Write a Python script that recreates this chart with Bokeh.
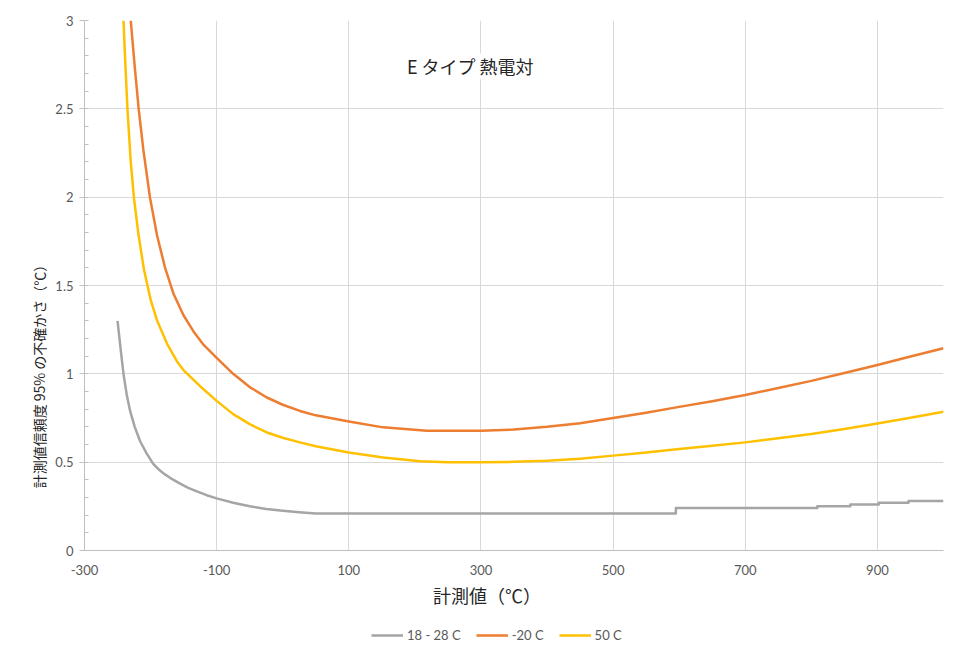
import math
from bokeh.plotting import figure
from bokeh.layouts import column
from bokeh.models import FixedTicker, NumeralTickFormatter, Label, Legend, LegendItem
from bokeh.embed import file_html
from bokeh.resources import INLINE

# ---- data ----
gray_x = [-250, -245, -241, -236, -231, -224, -216, -206, -196, -188, -180, -170, -156, -143, -130, -115, -100, -75, -50, -25, 0, 25, 50,
          595, 595, 809, 809, 859, 859, 902, 902, 947, 947, 1000]
gray_y = [1.30, 1.13, 1.00, 0.88, 0.79, 0.70, 0.62, 0.55, 0.49, 0.46, 0.435, 0.41, 0.38, 0.355, 0.335, 0.313, 0.295, 0.27, 0.25, 0.235, 0.225, 0.217, 0.21,
          0.21, 0.24, 0.24, 0.25, 0.25, 0.26, 0.26, 0.27, 0.27, 0.28, 0.28]

orange_x = [-230, -224, -218, -211, -201, -190, -178, -165, -150, -135, -120, -100, -75, -50, -24, 0, 26, 50, 100, 152, 218, 250,
            300, 350, 400, 450, 500, 550, 600, 650, 700, 750, 800, 850, 900, 950, 1000]
orange_y = [3.0, 2.74, 2.50, 2.27, 2.0, 1.78, 1.60, 1.45, 1.33, 1.24, 1.165, 1.09, 1.00, 0.925, 0.866, 0.825, 0.79, 0.765, 0.73, 0.697, 0.678, 0.678,
            0.678, 0.685, 0.70, 0.72, 0.75, 0.78, 0.813, 0.845, 0.88, 0.92, 0.96, 1.005, 1.05, 1.098, 1.145]

yellow_x = [-241, -238, -235, -230, -225, -218, -210, -200, -190, -175, -160, -150, -125, -100, -75, -50, -24, 0, 26, 50, 100, 152, 208, 250,
            300, 350, 400, 450, 500, 550, 600, 650, 700, 750, 800, 850, 900, 950, 1000]
yellow_y = [3.0, 2.74, 2.50, 2.20, 1.99, 1.78, 1.59, 1.42, 1.30, 1.17, 1.07, 1.02, 0.93, 0.847, 0.772, 0.715, 0.668, 0.638, 0.612, 0.59, 0.555, 0.527, 0.505, 0.50,
            0.499, 0.502, 0.508, 0.52, 0.537, 0.555, 0.575, 0.593, 0.612, 0.635, 0.659, 0.688, 0.719, 0.752, 0.785]

series_names = ["18 - 28 C", "-20 C", "50 C"]
series_colors = ["#A5A5A5", "#ED7D31", "#FFC000"]
series_x = [gray_x, orange_x, yellow_x]
series_y = [gray_y, orange_y, yellow_y]

x_ticks = [-300, -100, 100, 300, 500, 700, 900]
y_ticks = [0, 0.5, 1, 1.5, 2, 2.5, 3]
y_minor = [round(i * 0.1, 1) for i in range(31)]

title_text = "E タイプ  熱電対"
x_label = "計測値（℃）"
y_label = "計測値信頼度 95% の不確かさ（℃）"

tick_font = "Lato"
tick_color = "#595959"
cjk_font = "Noto Sans CJK JP"

# ---- main figure ----
p = figure(width=959, height=615, x_range=(-300, 1000), y_range=(0, 3),
           output_backend="svg", toolbar_location=None,
           min_border_left=84, min_border_right=16, min_border_top=20, min_border_bottom=65)
p.outline_line_color = None
p.background_fill_color = "white"
p.border_fill_color = "white"

p.xaxis.ticker = FixedTicker(ticks=x_ticks)
p.xaxis.formatter = NumeralTickFormatter(format="0")
p.yaxis.ticker = FixedTicker(ticks=y_ticks, minor_ticks=y_minor)
p.yaxis.formatter = NumeralTickFormatter(format="0.[0]")

for ax in (p.xaxis, p.yaxis):
    ax.axis_line_color = "#bfbfbf"
    ax.major_label_text_font = tick_font
    ax.major_label_text_font_size = "13px"
    ax.major_label_text_color = tick_color
    ax.axis_label_text_font = cjk_font
    ax.axis_label_text_font_style = "normal"
    ax.axis_label_text_color = "#262626"

p.xaxis.major_tick_line_color = None
p.xaxis.minor_tick_line_color = None
p.xaxis.major_label_standoff = 8
# trailing blank characters shift the label left like the reference
p.xaxis.axis_label = x_label + "\u3000\u3000\u3000\u2002"
p.xaxis.axis_label_text_font_size = "18px"
p.xaxis.axis_label_standoff = 4

p.yaxis.major_tick_in = 0
p.yaxis.major_tick_out = 5
p.yaxis.major_tick_line_color = "#bfbfbf"
p.yaxis.minor_tick_in = 4
p.yaxis.minor_tick_out = 0
p.yaxis.minor_tick_line_color = "#bfbfbf"
p.yaxis.major_label_standoff = 6
# trailing blank characters shift the label downward like the reference
p.yaxis.axis_label = y_label + "\u3000" * 13
p.yaxis.axis_label_text_font_size = "14px"
p.yaxis.axis_label_standoff = 3

p.xgrid.ticker = FixedTicker(ticks=x_ticks)
p.ygrid.ticker = FixedTicker(ticks=y_ticks)
p.xgrid.grid_line_color = "#d9d9d9"
p.ygrid.grid_line_color = "#d9d9d9"

for sx, sy, col in zip(series_x, series_y, series_colors):
    p.line(sx, sy, line_color=col, line_width=2.5, line_join="round")

# title inside plot (white box hides gridlines)
p.add_layout(Label(x=188, y=2.74, text=title_text + "\u3000\u3000\u3000\u3000", text_align="left", text_baseline="middle",
                   text_font=cjk_font, text_font_size="18px", text_color="#262626",
                   background_fill_color="white"))

# ---- legend strip (series drawn out of view, only legend shows) ----
lg = figure(width=959, height=36, x_range=(-300, 1000), y_range=(10, 11),
            output_backend="svg", toolbar_location=None,
            x_axis_type=None, y_axis_type=None, min_border=0)
lg.outline_line_color = None
lg.grid.visible = False
items = []
for name, sx, sy, col in zip(series_names, series_x, series_y, series_colors):
    r = lg.line(sx, sy, line_color=col, line_width=2.5)
    items.append(LegendItem(label=name, renderers=[r]))
legend = Legend(items=items, orientation="horizontal", location=(287, 8),
                glyph_width=32, glyph_height=14, label_standoff=4, spacing=15,
                padding=0, margin=0, border_line_color=None, background_fill_alpha=0,
                label_text_font=tick_font, label_text_font_size="13px", label_text_color=tick_color)
lg.add_layout(legend, "center")

layout = column(p, lg, spacing=0)
open("out.html", "w").write(file_html(layout, INLINE))
